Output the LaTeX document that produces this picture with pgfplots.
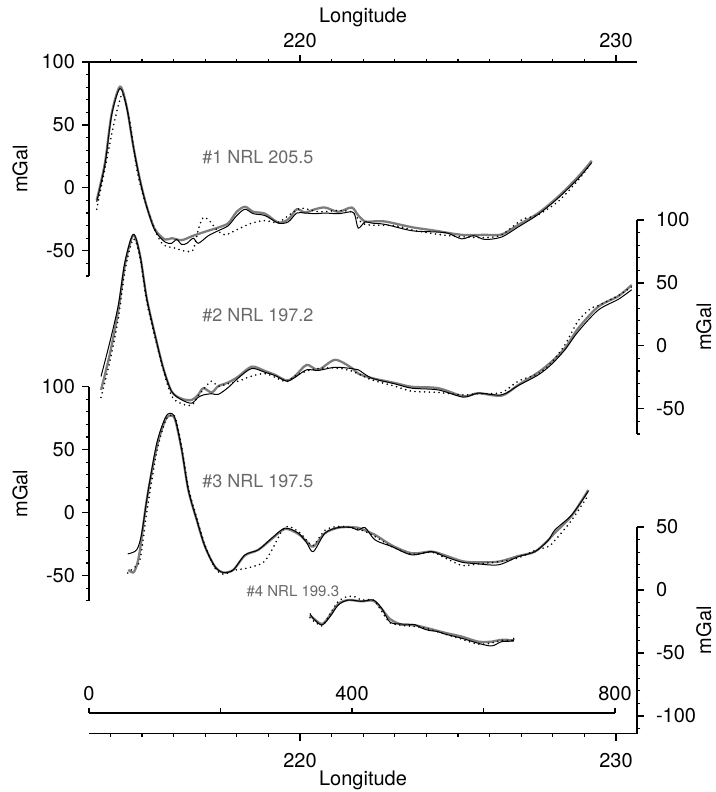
\documentclass[border=0pt]{standalone}
\usepackage{fontspec}
\setmainfont{TeX Gyre Heros}
\usepackage{pgfplots}
\pgfplotsset{compat=1.18}
\definecolor{lgray}{RGB}{125,125,125}
\definecolor{tgray}{RGB}{105,105,105}
\tikzset{lab/.style={text=tgray, font=\fontsize{9}{11}\selectfont}}
\pgfplotsset{
  base/.style={scale only axis, width=274pt, xmin=0, xmax=833.5, clip=false,
    tick align=outside, major tick length=3.5pt, minor tick length=1.7pt,
    every tick/.style={black, line width=0.6pt},
    axis line style={line width=0.8pt, -},
    /pgf/number format/assume math mode=true,
    ticklabel style={font=\fontsize{10}{12}\selectfont},
    label style={font=\fontsize{10}{12}\selectfont},
    ytick={-100,-50,0,50,100},
    minor ytick={-110,-100,...,100},
  },
  rightax/.style={axis y line*=right, yticklabel style={xshift=2.5pt},
    ylabel style={at={(axis description cs:1.122,0.5)}, anchor=center}},
  lonx/.style={xtick={320.9,801.6}, xticklabels={220,230},
      minor xtick={32.5,80.6,128.6,176.7,224.8,272.8,369,417,465.1,513.2,561.3,609.3,657.4,705.5,753.5}},
  gl/.style={lgray, line width=1.15pt, smooth, tension=0.5},
  bl/.style={black, line width=0.5pt, smooth, tension=0.5},
  dl/.style={black, line width=0.9pt, line cap=round, dash pattern=on 0pt off 2.4pt, smooth, tension=0.5},
}
\begin{document}
\begin{tikzpicture}
\useasboundingbox (0,0) rectangle (358pt,396pt);
% ---------- profile 1
\begin{axis}[base, height=107pt, at={(44.5pt,258pt)}, anchor=south west,
  ymin=-70, ymax=100, axis x line*=top, axis y line*=left, lonx,
  xlabel={Longitude}, xlabel style={at={(axis description cs:0.5,1.21)}, anchor=center},
  ylabel={mGal}]
\addplot[gl] coordinates {(11.7,-10) (24.3,20) (34.5,59) (47.2,80.4) (57.3,64.5) (67.4,33) (77.6,6.3) (87.8,-14.8) (100.4,-33) (115.6,-41) (125.8,-40) (141,-41.5) (158.6,-38) (181.5,-34) (196.7,-31.5) (211.9,-28) (224.7,-19) (237.3,-15) (249.9,-19) (267.7,-20.5) (288,-27.5) (303.1,-25) (315.9,-17) (328.5,-19.5) (343.7,-17) (359,-15.6) (379.2,-19) (399.6,-15.6) (409.6,-22) (419.8,-26.7) (430,-26.7) (450.2,-26.7) (490.8,-31.2) (526.3,-34) (566.9,-37.3) (602.3,-37.3) (627.7,-37) (653,-29.4) (683.4,-20) (713.8,-6.9) (744.2,9) (764.6,21.5)};
\addplot[bl] coordinates {(11.7,-11) (24.3,19) (34.5,58) (47.2,79) (57.3,64) (67.4,33) (77.6,6) (87.8,-15) (100.4,-34) (115.6,-43) (125.8,-44) (133.4,-41) (141,-45) (149,-44) (158.6,-40) (166.2,-44) (181.5,-38) (196.7,-34) (211.9,-30) (224.7,-22) (237.3,-17) (249.9,-20.5) (267.7,-22) (288,-28) (303.1,-27) (315.9,-20) (328.5,-20) (343.7,-20.5) (359,-20) (379.2,-20.5) (399.6,-19) (404.6,-22) (409.6,-32) (419.8,-27) (430,-28) (450.2,-29) (490.8,-34) (526.3,-35) (546,-36) (566.9,-40.5) (585,-38) (602.3,-41) (627.7,-39) (653,-31) (683.4,-21) (713.8,-8) (744.2,7.5) (764.6,20)};
\addplot[dl] coordinates {(11.7,-17) (21.8,9) (37,48.7) (47,70) (52.2,73.8) (62.4,51.3) (75,9) (92.8,-22.8) (110.6,-43.9) (130.8,-47.9) (148.6,-50.5) (158.6,-49) (166.2,-33.3) (173.9,-23.5) (184,-26.7) (194.2,-33.3) (206.9,-37.3) (224.7,-33.3) (247.5,-28) (267.7,-26) (287.5,-27.5) (308.3,-20.1) (323.5,-16.1) (348.8,-19) (379.2,-18) (399.6,-19) (404.6,-21.4) (419.8,-29) (465.4,-30) (495.8,-34) (536.5,-37.3) (566.9,-38.8) (602.3,-39.5) (627.7,-37.3) (658.1,-25.4) (683,-21.4) (713.3,-10.9) (743.8,6) (762,18.3)};
\node[lab] at (axis cs:257,24.6) {\#1 NRL 205.5};
\end{axis}
% ---------- profile 2
\begin{axis}[base, height=107pt, at={(44.5pt,179pt)}, anchor=south west,
  ymin=-70, ymax=100, axis x line=none, rightax, ylabel={mGal}]
\addplot[gl] coordinates {(18.3,-35) (31.9,-6) (44.6,28.6) (54.8,65) (67.4,88) (77.6,72) (87.8,38) (100.4,8.7) (113,-17.7) (125.8,-36.3) (141,-42) (156.2,-43) (165.8,-39) (173.9,-33.6) (186.6,-37) (196.7,-32) (211.9,-29) (227.1,-24.4) (247.5,-16.5) (267.7,-20) (282.9,-23) (300.7,-27.5) (313.3,-24) (331.1,-15.1) (348.8,-19) (374.2,-11.1) (399.6,-17.5) (409.6,-22) (430,-25.6) (465.4,-29.5) (490.8,-32.5) (531.3,-33.6) (569.3,-40) (592.1,-37.6) (627.7,-39.5) (653,-31) (683.4,-21) (703.8,-12.4) (724,-1.8) (744.2,14) (774.7,31.2) (805.1,39.5) (825.4,48.4)};
\addplot[bl] coordinates {(18.3,-24.3) (31.9,3.4) (44.6,32.5) (54.8,67) (67.4,88.6) (77.6,72.2) (87.8,37.9) (100.4,8.7) (113,-17.7) (125.8,-36.3) (141,-42.9) (156.2,-45.5) (165.8,-41) (173.9,-39) (186.6,-38) (196.7,-38.5) (211.9,-33) (227.1,-25.5) (247.5,-18) (267.7,-21) (282.9,-23.5) (300.7,-28) (313.3,-25) (331.1,-19) (348.8,-19.5) (374.2,-17) (399.6,-18) (409.6,-19) (430,-25.6) (465.4,-30.2) (490.8,-33.6) (531.3,-35) (569.3,-40.7) (592.1,-37.6) (627.7,-38.9) (653,-31.5) (683.4,-23) (703.8,-14.5) (724,-3) (744.2,11.5) (774.7,28.5) (805.1,37) (825.4,44.6)};
\addplot[dl] coordinates {(18.3,-41) (31.9,-12) (44.6,22) (54.8,60) (67.4,85) (77.6,70) (87.8,35) (100.4,7) (113,-19) (125.8,-40) (141,-46) (156.2,-47) (165.8,-40) (178,-32) (186.6,-28) (196.7,-32) (211.9,-30) (227.1,-28) (247.5,-24) (267.7,-22) (282.9,-25) (300.7,-28.5) (313.3,-24) (331.1,-20) (348.8,-18) (374.2,-17.5) (399.6,-20) (430,-27) (465.4,-32) (490.8,-36) (531.3,-37) (569.3,-39) (592.1,-38) (627.7,-37) (653,-28) (683.4,-22) (703.8,-13) (724,1) (744.2,20) (764,30) (774.7,32) (805.1,40) (825.4,47)};
\node[lab] at (axis cs:257,24.6) {\#2 NRL 197.2};
\end{axis}
% ---------- profile 3
\begin{axis}[base, height=107pt, at={(44.5pt,95.65pt)}, anchor=south west,
  ymin=-70, ymax=100, axis x line=none, axis y line*=left, ylabel={mGal}]
\addplot[gl] coordinates {(59.8,-45.5) (67.4,-47.6) (72.6,-42) (77.6,-29.6) (87.8,10) (103,52) (115.6,73) (123.2,77) (130.8,74) (141,49.8) (151,18) (163.8,-5.8) (176.4,-27) (191.6,-42.9) (204.3,-47.6) (219.5,-45.5) (237.3,-34) (257.5,-29.6) (277.9,-21) (298.1,-13) (318.3,-17) (331.1,-23) (341.2,-27) (359,-16.3) (379.2,-12) (399.6,-11.5) (409.1,-12) (435,-17.7) (460.4,-26) (490.8,-32.3) (521.2,-31) (541.5,-34) (566.9,-38.5) (587.1,-39.5) (622.5,-39) (653,-34.5) (678.4,-31) (698.6,-21.7) (708.8,-16) (734.2,-2.5) (759.5,18)};
\addplot[bl] coordinates {(58.9,-32.8) (72.6,-29.6) (80.2,-16.3) (90.2,18) (103,55) (115.6,74.9) (123.2,78.9) (130.8,74.9) (141,49.8) (151,18) (163.8,-5.8) (176.4,-27) (191.6,-42.9) (204.3,-47.6) (219.5,-45.5) (237.3,-33.6) (257.5,-29.6) (277.9,-20.3) (298.1,-12.4) (318.3,-16.3) (331.1,-24) (341.2,-31) (359,-16.3) (379.2,-11.9) (399.6,-11.9) (409.1,-14) (420,-12) (435,-21.7) (460.4,-27) (490.8,-33.6) (521.2,-31) (541.5,-35) (566.9,-39.4) (587.1,-40.5) (622.5,-41.5) (653,-35) (678.4,-31) (698.6,-22) (708.8,-13.7) (734.2,-1.8) (759.5,17)};
\addplot[dl] coordinates {(58.9,-48) (67.4,-44) (77.6,-37.5) (87.8,0) (103,48) (115.6,72) (123.2,77) (130.8,76) (141,52) (151,20) (163.8,-4) (176.4,-26) (191.6,-44) (204.3,-49) (219.5,-46) (241.7,-44) (265,-39.7) (277.9,-30) (298.1,-11.5) (318.3,-15) (331.1,-22) (341.2,-26) (359,-14) (379.2,-11) (399.6,-12) (420,-15) (435,-19) (460.4,-27) (490.8,-33) (521.2,-31.5) (541.5,-36) (566.9,-42) (587.1,-41) (622.5,-39) (653,-36) (678.4,-30) (698.6,-27) (708.8,-22) (734.2,-6) (759.5,14)};
\node[lab] at (axis cs:257,24.6) {\#3 NRL 197.5};
\end{axis}
% ---------- profile 4
\begin{axis}[base, height=103.3pt, at={(44.5pt,29.2pt)}, anchor=south west,
  ymin=-114, ymax=50, axis x line*=bottom, rightax, lonx,
  xticklabel style={yshift=-3pt},
  xlabel={Longitude}, xlabel style={at={(axis description cs:0.5,-0.228)}, anchor=center},
  ylabel={mGal}]
\addplot[gl] coordinates {(336.1,-20) (354,-27) (366.6,-20) (379.2,-11) (394.4,-8) (414.8,-9) (432.4,-8.5) (445.2,-15) (457.8,-23) (475.6,-27.5) (495.8,-28) (516.1,-30.5) (541.5,-34) (566.9,-37) (592.1,-41) (612.5,-41) (627.7,-39.5) (645.4,-40)};
\addplot[bl] coordinates {(336.1,-18.5) (340,-22) (354,-27.8) (366.6,-21.2) (379.2,-11.9) (394.4,-8) (414.8,-9) (432.4,-8) (445.2,-14.5) (457.8,-25.5) (475.6,-27) (495.8,-27.5) (505,-30) (516.1,-32) (530,-33) (541.5,-35) (566.9,-38.3) (592.1,-42.3) (612.5,-44.4) (627.7,-41) (645.4,-40.5) (645.4,-38)};
\addplot[dl] coordinates {(336.1,-22) (354,-28.5) (366.6,-19) (379.2,-9) (394.4,-5) (405,-5.5) (414.8,-8) (432.4,-8) (445.2,-17) (457.8,-26) (475.6,-28) (495.8,-29) (516.1,-31) (541.5,-35) (566.9,-39) (592.1,-43) (612.5,-42) (627.7,-40) (645.4,-40)};
\node[lab, font=\fontsize{7.5}{9}\selectfont] at (axis cs:310,-0.8) {\#4 NRL 199.3};
\end{axis}
% ---------- distance axis
\begin{axis}[scale only axis, width=263pt, height=10pt, at={(44.5pt,39.5pt)}, anchor=north west,
  xmin=0, xmax=800, ymin=0, ymax=1, axis x line*=top, axis y line=none,
  xtick={0,400,800}, minor xtick={200,600}, tick align=outside,
  major tick length=2.5pt, minor tick length=2.5pt,
  every tick/.style={black, line width=0.6pt},
  axis line style={line width=1.3pt, -},
  /pgf/number format/assume math mode=true,
  ticklabel style={font=\fontsize{10}{12}\selectfont}]
\end{axis}
\end{tikzpicture}
\end{document}
